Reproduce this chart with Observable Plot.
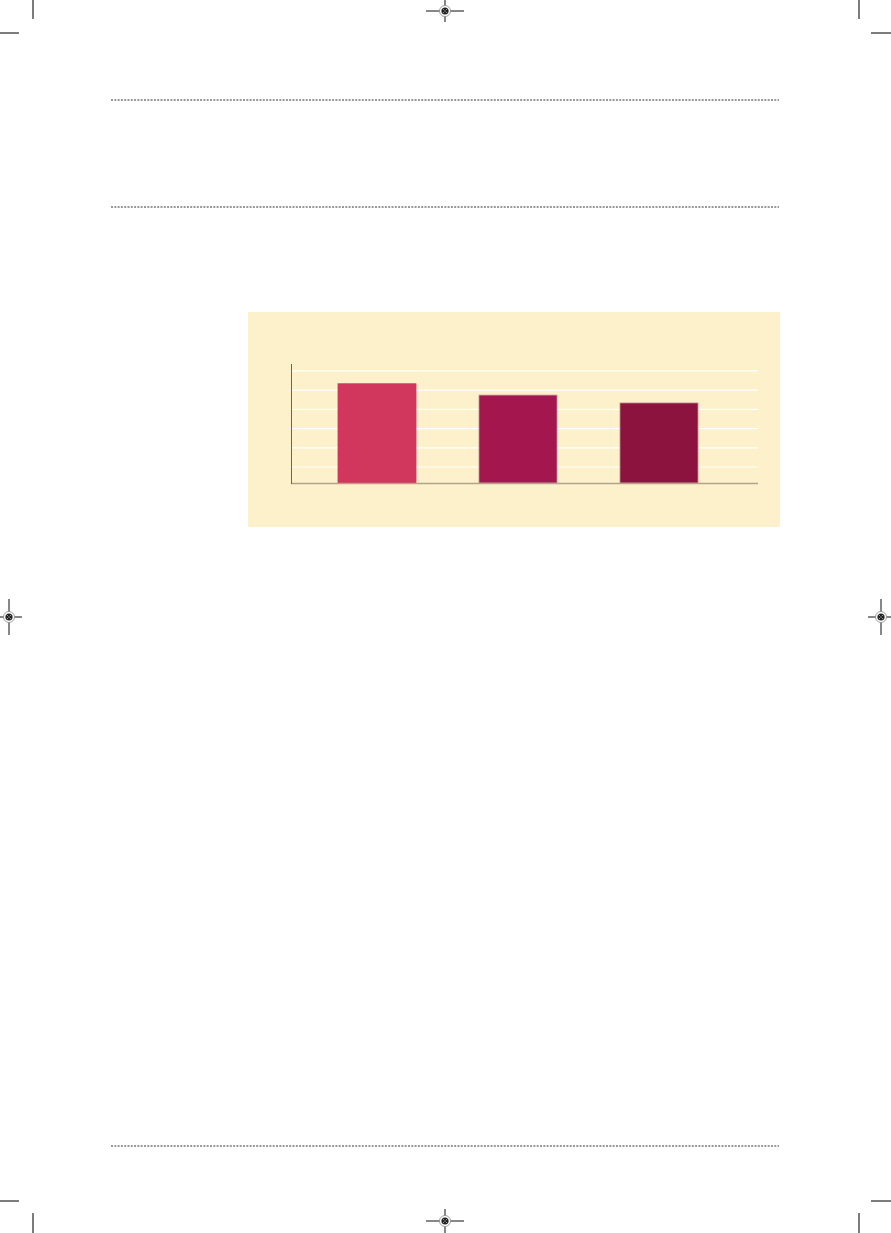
<!DOCTYPE html>
<html>
<head>
<meta charset="utf-8">
<script src="https://cdn.jsdelivr.net/npm/d3@7"></script>
<script src="https://cdn.jsdelivr.net/npm/@observablehq/plot@0.6"></script>
<style>
  html, body { margin: 0; padding: 0; background: #ffffff; }
  #page { position: relative; width: 891px; height: 1233px; overflow: hidden; font-family: "Liberation Sans", sans-serif; }
  #deco { position: absolute; left: 0; top: 0; }
  #chart { position: absolute; left: 248px; top: 312px; width: 532px; height: 215px; background: #FDF1CB; }
  #chart svg { display: block; background: transparent; }
</style>
</head>
<body>
<div id="page">
  <svg id="deco" width="891" height="1233"></svg>
  <div id="chart"></div>
</div>
<script>
// ---- chart data ----
const categories = ["A", "B", "C"];
const values = [5.17, 4.58, 4.17];
const barColors = ["#D1365C", "#A4164E", "#8B133D"];
const barStrokes = ["#D1365C", "#C98A95", "#C98A95"];
const gridTicks = [0.86, 1.86, 2.86, 3.86, 4.86, 5.87];
const yMax = 6.2;

const data = categories.map((c, i) => ({ cat: c, value: values[i], fill: barColors[i], stroke: barStrokes[i] }));

const chart = Plot.plot({
  width: 532,
  height: 215,
  marginLeft: 43,
  marginRight: 22,
  marginTop: 52,
  marginBottom: 44,
  style: { background: "transparent" },
  x: { domain: categories, paddingInner: 0.45, paddingOuter: 0.375, align: 0.44, axis: null },
  y: { domain: [0, yMax], axis: null },
  marks: [
    Plot.ruleY(gridTicks, { stroke: "#ffffff", strokeWidth: 1.2, strokeOpacity: 1 }),
    Plot.barY(data, { x: "cat", y: "value", fill: "fill", stroke: "stroke", strokeWidth: 0.8 }),
    Plot.ruleY([0], { stroke: "#B0A48C", strokeWidth: 1.6 }),
    Plot.frame({ anchor: "left", stroke: "#6E6555", strokeWidth: 1 })
  ]
});
document.getElementById("chart").appendChild(chart);

// ---- page decorations (crop marks, registration marks, dotted rules) ----
const deco = d3.select("#deco");
const ink = "#111";
const dottedRows = [100, 207, 1146];
dottedRows.forEach(y => {
  deco.append("line").attr("x1", 111).attr("x2", 779).attr("y1", y).attr("y2", y)
    .attr("stroke", "#333").attr("stroke-width", 1).attr("stroke-dasharray", "2,1.3");
});
const crops = [
  [33, 0, 33, 19], [0, 33, 19, 33],
  [859, 0, 859, 19], [871, 33, 891, 33],
  [33, 1213, 33, 1233], [0, 1201, 19, 1201],
  [859, 1213, 859, 1233], [871, 1201, 891, 1201]
];
crops.forEach(([x1, y1, x2, y2]) => {
  deco.append("line").attr("x1", x1).attr("y1", y1).attr("x2", x2).attr("y2", y2)
    .attr("stroke", ink).attr("stroke-width", 1.1);
});
function reg(cx, cy, h, v) {
  const g = deco.append("g");
  g.append("line").attr("x1", cx - h).attr("x2", cx + h).attr("y1", cy).attr("y2", cy).attr("stroke", ink).attr("stroke-width", 1);
  g.append("line").attr("x1", cx).attr("x2", cx).attr("y1", cy - v).attr("y2", cy + v).attr("stroke", ink).attr("stroke-width", 1);
  g.append("circle").attr("cx", cx).attr("cy", cy).attr("r", 5.5).attr("fill", "#fff").attr("stroke", "#888").attr("stroke-width", 0.8);
  g.append("circle").attr("cx", cx).attr("cy", cy).attr("r", 3.6).attr("fill", "#222");
  g.append("line").attr("x1", cx - 2.3).attr("x2", cx + 2.3).attr("y1", cy - 2.3).attr("y2", cy + 2.3).attr("stroke", "#ccc").attr("stroke-width", 0.7);
  g.append("line").attr("x1", cx - 2.3).attr("x2", cx + 2.3).attr("y1", cy + 2.3).attr("y2", cy - 2.3).attr("stroke", "#ccc").attr("stroke-width", 0.7);
  g.append("line").attr("x1", cx - 1.5).attr("x2", cx + 1.5).attr("y1", cy).attr("y2", cy).attr("stroke", ink).attr("stroke-width", 1);
}
reg(445, 11, 19, 11);
reg(445, 1221, 19, 12);
reg(9, 617, 13, 18);
reg(881, 617, 13, 18);
</script>
</body>
</html>
